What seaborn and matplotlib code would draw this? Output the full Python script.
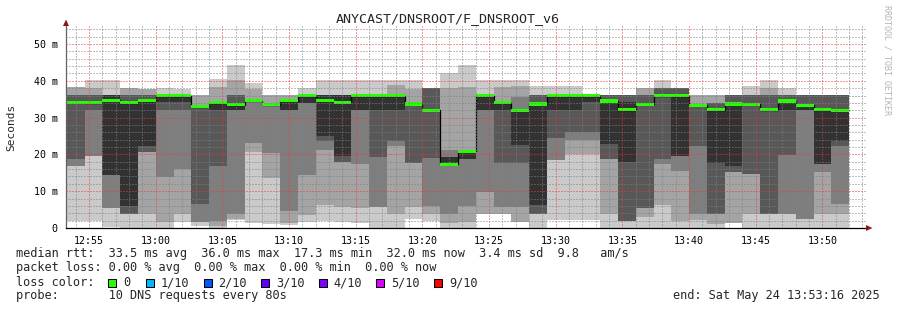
import numpy as np
import pandas as pd
import matplotlib
matplotlib.use("Agg")
import matplotlib.pyplot as plt
import matplotlib.dates as mdates
from matplotlib.patches import Polygon, Rectangle
import seaborn as sns

# ---------------- data (ms) : 44 steps of 80 s, 10 sorted DNS pings each ----------------
start_time = "2025-05-24 12:53:20"
step_seconds = 80
view_start = "2025-05-24 12:53:16"
view_end = "2025-05-24 13:53:16"

ping1 = [1.8, 1.8, 0.2, 0.0, 0.0, 0.1, 1.6, 0.5, 0.0, 2.2, 1.4, 1.2, 0.8, 1.7, 1.8, 1.6, 1.4, 0.0, 0.0, 2.4,
         1.8, 0.0, 0.0, 3.8, 3.8, 1.5, 0.0, 2.2, 2.2, 2.2, 0.0, 0.0, 0.0, 0.0, 0.0, 0.0, 0.0, 1.4, 0.0, 0.0,
         0.0, 0.0, 0.0, 0.0]
ping2 = [16.8, 19.5, 5.4, 3.7, 3.9, 1.6, 3.7, 1.6, 0.5, 2.4, 20.7, 13.7, 1.4, 3.5, 6.2, 5.8, 5.4, 5.7, 3.8, 5.7,
         3.8, 1.4, 1.6, 3.8, 3.8, 1.5, 3.7, 18.4, 20.0, 20.0, 3.7, 1.8, 3.0, 6.2, 1.8, 2.3, 1.2, 1.4, 3.7, 3.7,
         3.9, 2.5, 3.7, 3.7]
ping3 = [16.8, 19.5, 5.4, 3.7, 20.7, 13.9, 16.1, 1.6, 2.0, 3.8, 23.1, 20.4, 4.7, 14.4, 21.1, 17.8, 17.5, 5.7, 22.3, 17.6,
         6.0, 3.8, 6.0, 9.9, 5.6, 5.7, 3.7, 18.4, 24.0, 24.0, 18.8, 1.8, 5.4, 17.3, 15.4, 3.9, 3.9, 15.2, 14.8, 3.7,
         3.9, 2.5, 15.2, 6.4]
ping4 = [18.7, 32.0, 14.3, 3.7, 20.7, 32.1, 32.1, 6.4, 16.8, 32.1, 34.3, 33.3, 32.1, 33.9, 23.6, 17.8, 32.0, 19.3, 23.6, 17.6,
         19.0, 17.3, 18.8, 32.1, 17.7, 17.6, 3.7, 24.5, 26.0, 26.0, 18.8, 1.8, 5.4, 18.8, 19.5, 22.2, 3.9, 15.2, 14.8, 3.7,
         19.9, 32.0, 17.3, 22.2]
ping5 = [34.1, 34.0, 14.3, 6.0, 22.2, 34.3, 34.3, 32.8, 32.0, 32.1, 34.4, 33.4, 32.1, 33.9, 24.9, 19.6, 32.0, 32.0, 32.0, 33.4,
         31.9, 17.5, 18.8, 32.1, 32.1, 22.6, 6.3, 32.1, 32.1, 34.3, 22.9, 17.9, 33.4, 36.0, 19.5, 33.3, 17.7, 16.8, 33.4, 32.0,
         32.0, 32.0, 17.3, 23.6]
ping6 = [34.3, 34.2, 36.1, 34.3, 34.7, 36.4, 36.3, 33.2, 34.3, 33.7, 34.8, 33.6, 34.8, 36.4, 36.1, 36.1, 36.3, 36.3, 36.3, 34.0,
         32.2, 19.4, 21.2, 36.4, 34.4, 32.3, 33.9, 36.4, 36.4, 36.4, 34.8, 34.3, 33.9, 36.4, 36.4, 33.5, 32.4, 33.9, 33.8, 32.4,
         34.6, 33.4, 32.3, 32.3]
ping7 = [36.1, 36.1, 36.1, 36.1, 36.1, 36.4, 36.3, 33.2, 34.3, 36.1, 34.8, 33.6, 34.8, 36.4, 36.1, 36.1, 36.3, 36.3, 36.3, 34.0,
         38.0, 19.4, 21.2, 36.4, 34.4, 32.3, 36.2, 36.4, 36.4, 36.4, 36.1, 36.1, 36.1, 38.0, 38.0, 33.5, 34.0, 36.1, 36.1, 36.1,
         36.1, 36.1, 36.1, 36.1]
ping8 = [36.1, 36.1, 36.1, 36.1, 36.1, 36.4, 36.3, 33.2, 34.3, 36.1, 34.8, 33.6, 34.8, 36.4, 36.1, 36.1, 36.3, 36.3, 36.3, 34.0,
         38.0, 21.2, 21.2, 36.4, 34.4, 35.5, 36.2, 36.4, 36.4, 36.4, 36.1, 36.1, 36.1, 38.0, 38.0, 33.5, 34.0, 36.1, 36.1, 36.1,
         36.1, 36.1, 36.1, 36.1]
ping9 = [38.2, 38.1, 36.1, 38.1, 37.9, 36.4, 36.3, 36.1, 38.3, 40.2, 37.9, 36.1, 36.1, 36.4, 36.1, 36.1, 36.3, 36.3, 38.8, 37.7,
         38.0, 38.0, 38.4, 36.4, 38.4, 38.6, 36.2, 36.4, 36.4, 36.4, 36.1, 36.1, 38.0, 38.0, 38.0, 36.1, 36.1, 36.1, 36.1, 38.0,
         36.1, 36.1, 36.1, 36.1]
ping10 = [38.2, 40.2, 40.2, 38.1, 37.9, 38.1, 37.9, 36.1, 40.4, 44.3, 39.5, 36.1, 36.1, 38.1, 40.2, 40.2, 40.1, 40.1, 40.1, 40.1,
          38.0, 42.1, 44.3, 40.2, 40.2, 40.2, 38.6, 38.6, 38.6, 36.4, 36.1, 36.1, 38.0, 40.2, 38.0, 36.1, 36.1, 36.1, 38.6, 40.2,
          38.0, 36.1, 36.1, 36.1]
median = [34.2, 34.1, 34.7, 34.0, 34.6, 36.0, 36.0, 33.0, 34.1, 33.5, 34.6, 33.5, 34.6, 36.0, 34.6, 34.2, 36.0, 36.0, 36.0, 33.7,
          32.0, 17.3, 20.8, 36.0, 34.1, 32.0, 33.7, 36.0, 36.0, 36.0, 34.5, 32.2, 33.6, 36.0, 36.0, 33.4, 32.2, 33.7, 33.6, 32.2,
          34.5, 33.3, 32.2, 32.0]

y_ticks = [0, 10, 20, 30, 40, 50]
y_tick_labels = ["0", "10 m", "20 m", "30 m", "40 m", "50 m"]

title = "ANYCAST/DNSROOT/F_DNSROOT_v6"
legend_lines = [
    "median rtt:  33.5 ms avg  36.0 ms max  17.3 ms min  32.0 ms now  3.4 ms sd  9.8   am/s",
    "packet loss: 0.00 % avg  0.00 % max  0.00 % min  0.00 % now",
    "loss color:",
    "probe:       10 DNS requests every 80s",
]
loss_labels = ["0", "1/10", "2/10", "3/10", "4/10", "5/10", "9/10"]
loss_colors = ["#26ff00", "#00b8ff", "#0059ff", "#5e00ff", "#7e00ff", "#dd00ff", "#ff0000"]
end_text = "end: Sat May 24 13:53:16 2025"
smoke_colors = ["#cacaca", "#a4a4a4", "#7e7e7e", "#585858", "#323232"]

# ---------------- figure ----------------
sns.set_style("white")
plt.rcParams["font.family"] = ["DejaVu Sans Mono", "DejaVu Sans"]

W, H = 897, 310
fig = plt.figure(figsize=(W / 100, H / 100), dpi=100)
fig.patch.set_facecolor("white")


def fx(px):
    return px / W


def fy(py):
    return 1 - py / H


ax = fig.add_axes([fx(66), fy(228), fx(866) - fx(66), fy(25.6) - fy(228)])
ax.set_facecolor("white")

n = len(median)
edges = pd.date_range(start_time, periods=n + 1, freq=f"{step_seconds}s")
pings = [ping1, ping2, ping3, ping4, ping5, ping6, ping7, ping8, ping9, ping10]


def ext(v):
    v = np.asarray(v, dtype=float)
    return np.append(v, v[-1])


for i in range(5):
    ax.fill_between(edges, ext(pings[i]), ext(pings[9 - i]), step="post",
                    color=smoke_colors[i], lw=0, zorder=1, antialiased=False)

med_df = pd.DataFrame({"time": edges, "median": ext(median)})
sns.lineplot(data=med_df, x="time", y="median", drawstyle="steps-post",
             color="black", lw=0.9, ax=ax, zorder=1.5, legend=False)
ax.fill_between(edges, ext(median) - 0.42, ext(median) + 0.42, step="post",
                color=loss_colors[0], lw=0, zorder=1.6, antialiased=False)

ax.set_xlim(pd.Timestamp(view_start), pd.Timestamp(view_end))
ax.set_ylim(0, 55)

ax.xaxis.set_major_locator(mdates.MinuteLocator(byminute=range(0, 60, 5)))
ax.xaxis.set_minor_locator(mdates.MinuteLocator())
ax.xaxis.set_major_formatter(mdates.DateFormatter("%H:%M"))
ax.set_yticks(y_ticks)
ax.set_yticklabels(y_tick_labels)
ax.set_yticks(np.arange(0, 55, 2), minor=True)

ax.set_axisbelow(False)
dot = (0, (1, 2))
ax.grid(True, which="minor", color=(0.5, 0.5, 0.5, 0.5), lw=0.72, ls=dot)
ax.grid(True, which="major", color=(0.95, 0.2, 0.2, 0.55), lw=0.72, ls=dot)

ax.tick_params(axis="both", which="major", length=3, width=0.72, color="#e99a9a",
               labelsize=7.2, labelcolor="#000000")
ax.tick_params(axis="both", which="minor", length=2, width=0.72, color="#c0c0c0")
ax.tick_params(axis="x", which="major", pad=2.5)
ax.tick_params(axis="y", which="major", pad=3)

for s in ["top", "right"]:
    ax.spines[s].set_visible(False)
ax.spines["left"].set_color("#606060")
ax.spines["left"].set_linewidth(0.9)
ax.spines["bottom"].set_color("#000000")
ax.spines["bottom"].set_linewidth(0.9)
ax.set_xlabel("")
ax.set_ylabel("")

# axis arrows
arrow_c = "#8b1a1a"
fig.add_artist(Polygon([[fx(63), fy(26)], [fx(69), fy(26)], [fx(66), fy(19.5)]],
                       closed=True, transform=fig.transFigure, color=arrow_c, lw=0))
fig.add_artist(Polygon([[fx(866), fy(225)], [fx(866), fy(231)], [fx(872.5), fy(228)]],
                       closed=True, transform=fig.transFigure, color=arrow_c, lw=0))

# texts
fig.text(fx(448), fy(19), title, ha="center", va="center", fontsize=9.6)
fig.text(fx(11), fy(127), "Seconds", rotation=90, ha="center", va="center", fontsize=8)
fig.text(fx(886.5), fy(60), "RRDTOOL / TOBI OETIKER", rotation=270, ha="center", va="center",
         fontsize=6, color="#b4b4b4")

line_y = [254, 268, 282.5, 296]
for txt, yy in zip(legend_lines, line_y):
    fig.text(fx(16), fy(yy), txt, ha="left", va="center", fontsize=8.55)

sq_x = [108, 146, 203.5, 261, 318.5, 376, 434]
for x0, lab, col in zip(sq_x, loss_labels, loss_colors):
    fig.add_artist(Rectangle((fx(x0), fy(287)), fx(8), 8 / H, transform=fig.transFigure,
                             facecolor=col, edgecolor="black", lw=0.75))
    fig.text(fx(x0 + 15), fy(282.5), lab, ha="left", va="center", fontsize=8.55)

fig.text(fx(880), fy(296), end_text, ha="right", va="center", fontsize=8.55)

fig.savefig("out.png", dpi=100, facecolor="white")
